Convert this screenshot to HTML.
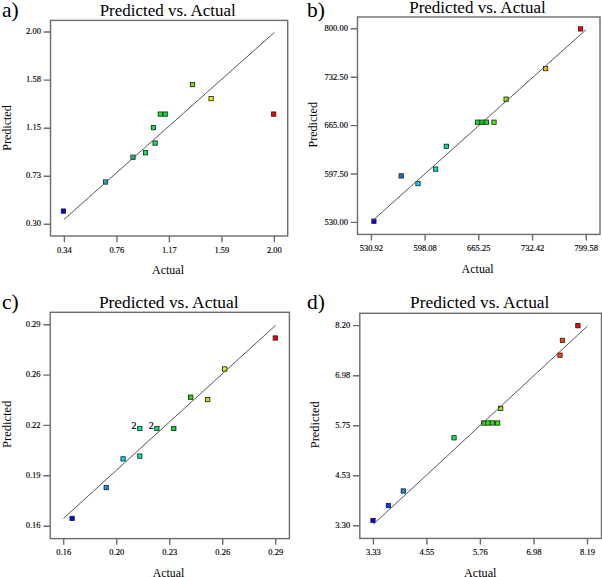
<!DOCTYPE html>
<html><head><meta charset="utf-8"><title>Predicted vs. Actual</title>
<style>
html,body{margin:0;padding:0;background:#fff;}
body{width:602px;height:577px;overflow:hidden;}
svg{display:block;}
text{font-family:"Liberation Serif", serif;fill:#000;}
.tk{font-size:8.5px;stroke:#000;stroke-width:0.15px;}
.ti{font-size:17px;}
.le{font-size:21.5px;}
.ax{font-size:12px;}
.two{font-size:10px;stroke:#000;stroke-width:0.2px;}
</style></head><body>
<svg width="602" height="577" viewBox="0 0 602 577">
<rect width="602" height="577" fill="#fff"/>
<g><rect x="50.5" y="20.4" width="237.2" height="215.6" fill="none" stroke="#6b6b6b" stroke-width="1.4"/><path d="M64.4 236V242.2M116.9 236V242.2M169.4 236V242.2M221.9 236V242.2M274.4 236V242.2M50.5 32H43.7M50.5 80.1H43.7M50.5 128.2H43.7M50.5 176.2H43.7M50.5 224.3H43.7" stroke="#6b6b6b" stroke-width="1.4" fill="none"/><text x="64.4" y="252.5" class="tk" text-anchor="middle">0.34</text><text x="116.9" y="252.5" class="tk" text-anchor="middle">0.76</text><text x="169.4" y="252.5" class="tk" text-anchor="middle">1.17</text><text x="221.9" y="252.5" class="tk" text-anchor="middle">1.59</text><text x="274.4" y="252.5" class="tk" text-anchor="middle">2.00</text><text x="40.9" y="33.7" class="tk" text-anchor="end">2.00</text><text x="40.9" y="81.8" class="tk" text-anchor="end">1.58</text><text x="40.9" y="129.9" class="tk" text-anchor="end">1.15</text><text x="40.9" y="177.9" class="tk" text-anchor="end">0.73</text><text x="40.9" y="226" class="tk" text-anchor="end">0.30</text><rect x="61.25" y="208.95" width="4.3" height="4.3" fill="#0000ff" stroke="#1c1c1c" stroke-width="0.8"/><rect x="103.45" y="179.85" width="4.3" height="4.3" fill="#00c8e8" stroke="#1c1c1c" stroke-width="0.8"/><rect x="130.85" y="155.05" width="4.3" height="4.3" fill="#00dd99" stroke="#1c1c1c" stroke-width="0.8"/><rect x="143.35" y="150.55" width="4.3" height="4.3" fill="#00ee55" stroke="#1c1c1c" stroke-width="0.8"/><rect x="152.95" y="140.95" width="4.3" height="4.3" fill="#00ee44" stroke="#1c1c1c" stroke-width="0.8"/><rect x="151.25" y="125.45" width="4.3" height="4.3" fill="#00ee44" stroke="#1c1c1c" stroke-width="0.8"/><rect x="158.15" y="111.95" width="4.3" height="4.3" fill="#00ee33" stroke="#1c1c1c" stroke-width="0.8"/><rect x="163.05" y="111.95" width="4.3" height="4.3" fill="#00ee33" stroke="#1c1c1c" stroke-width="0.8"/><rect x="190.35" y="82.45" width="4.3" height="4.3" fill="#66ee00" stroke="#1c1c1c" stroke-width="0.8"/><rect x="208.95" y="96.45" width="4.3" height="4.3" fill="#eeee00" stroke="#1c1c1c" stroke-width="0.8"/><rect x="271.55" y="111.95" width="4.3" height="4.3" fill="#ff0000" stroke="#1c1c1c" stroke-width="0.8"/><line x1="64" y1="219.5" x2="274.4" y2="32.4" stroke="#555" stroke-width="1.0"/><text x="99.7" y="15.7" class="ti" textLength="136.1" lengthAdjust="spacingAndGlyphs">Predicted vs. Actual</text><text x="2" y="16.6" class="le">a)</text><text transform="translate(11 128) rotate(-90)" x="0" y="0" class="ax" text-anchor="middle" textLength="45.5" lengthAdjust="spacingAndGlyphs">Predicted</text><text x="168" y="274.2" class="ax" text-anchor="middle" textLength="32" lengthAdjust="spacingAndGlyphs">Actual</text></g>
<g><rect x="357.5" y="17" width="242.5" height="217.4" fill="none" stroke="#6b6b6b" stroke-width="1.4"/><path d="M371.4 234.4V240.6M425.1 234.4V240.6M478.8 234.4V240.6M532.6 234.4V240.6M586.3 234.4V240.6M357.5 28.8H350.7M357.5 77.2H350.7M357.5 125.6H350.7M357.5 174H350.7M357.5 222.4H350.7" stroke="#6b6b6b" stroke-width="1.4" fill="none"/><text x="371.4" y="250.6" class="tk" text-anchor="middle">530.92</text><text x="425.1" y="250.6" class="tk" text-anchor="middle">598.08</text><text x="478.8" y="250.6" class="tk" text-anchor="middle">665.25</text><text x="532.6" y="250.6" class="tk" text-anchor="middle">732.42</text><text x="586.3" y="250.6" class="tk" text-anchor="middle">799.58</text><text x="347.9" y="31.4" class="tk" text-anchor="end">800.00</text><text x="347.9" y="79.8" class="tk" text-anchor="end">732.50</text><text x="347.9" y="128.2" class="tk" text-anchor="end">665.00</text><text x="347.9" y="176.6" class="tk" text-anchor="end">597.50</text><text x="347.9" y="225" class="tk" text-anchor="end">530.00</text><rect x="371.75" y="219.05" width="4.3" height="4.3" fill="#0000ff" stroke="#1c1c1c" stroke-width="0.8"/><rect x="399.05" y="173.75" width="4.3" height="4.3" fill="#1a6ae8" stroke="#1c1c1c" stroke-width="0.8"/><rect x="415.85" y="181.45" width="4.3" height="4.3" fill="#00d8f0" stroke="#1c1c1c" stroke-width="0.8"/><rect x="433.45" y="166.95" width="4.3" height="4.3" fill="#00e8c8" stroke="#1c1c1c" stroke-width="0.8"/><rect x="444.15" y="144.15" width="4.3" height="4.3" fill="#00e090" stroke="#1c1c1c" stroke-width="0.8"/><rect x="475.35" y="120.05" width="4.3" height="4.3" fill="#00ee22" stroke="#1c1c1c" stroke-width="0.8"/><rect x="479.85" y="120.05" width="4.3" height="4.3" fill="#00ee22" stroke="#1c1c1c" stroke-width="0.8"/><rect x="484.35" y="120.05" width="4.3" height="4.3" fill="#00ee22" stroke="#1c1c1c" stroke-width="0.8"/><rect x="491.85" y="120.05" width="4.3" height="4.3" fill="#55ee00" stroke="#1c1c1c" stroke-width="0.8"/><rect x="503.95" y="97.05" width="4.3" height="4.3" fill="#88ee00" stroke="#1c1c1c" stroke-width="0.8"/><rect x="543.45" y="66.45" width="4.3" height="4.3" fill="#ffbb00" stroke="#1c1c1c" stroke-width="0.8"/><rect x="578.45" y="26.75" width="4.3" height="4.3" fill="#ff0000" stroke="#1c1c1c" stroke-width="0.8"/><line x1="371.4" y1="221.7" x2="586" y2="29.7" stroke="#555" stroke-width="1.0"/><text x="409.2" y="12.5" class="ti" textLength="136.5" lengthAdjust="spacingAndGlyphs">Predicted vs. Actual</text><text x="307" y="17" class="le">b)</text><text transform="translate(317 124.8) rotate(-90)" x="0" y="0" class="ax" text-anchor="middle" textLength="45.5" lengthAdjust="spacingAndGlyphs">Predicted</text><text x="477.6" y="272.9" class="ax" text-anchor="middle" textLength="32" lengthAdjust="spacingAndGlyphs">Actual</text></g>
<g><rect x="50.2" y="312.3" width="239.2" height="226.3" fill="none" stroke="#6b6b6b" stroke-width="1.4"/><path d="M63.7 538.6V544.8M116.7 538.6V544.8M169.7 538.6V544.8M222.7 538.6V544.8M275.7 538.6V544.8M50.2 324.7H43.4M50.2 375.1H43.4M50.2 425.4H43.4M50.2 475.8H43.4M50.2 526.2H43.4" stroke="#6b6b6b" stroke-width="1.4" fill="none"/><text x="63.7" y="555.3" class="tk" text-anchor="middle">0.16</text><text x="116.7" y="555.3" class="tk" text-anchor="middle">0.20</text><text x="169.7" y="555.3" class="tk" text-anchor="middle">0.23</text><text x="222.7" y="555.3" class="tk" text-anchor="middle">0.26</text><text x="275.7" y="555.3" class="tk" text-anchor="middle">0.29</text><text x="40.6" y="326.8" class="tk" text-anchor="end">0.29</text><text x="40.6" y="377.2" class="tk" text-anchor="end">0.26</text><text x="40.6" y="427.5" class="tk" text-anchor="end">0.22</text><text x="40.6" y="477.9" class="tk" text-anchor="end">0.19</text><text x="40.6" y="528.3" class="tk" text-anchor="end">0.16</text><rect x="69.95" y="516.25" width="4.3" height="4.3" fill="#0000ff" stroke="#1c1c1c" stroke-width="0.8"/><rect x="104.05" y="485.45" width="4.3" height="4.3" fill="#1090e8" stroke="#1c1c1c" stroke-width="0.8"/><rect x="120.95" y="456.75" width="4.3" height="4.3" fill="#00d8f0" stroke="#1c1c1c" stroke-width="0.8"/><rect x="137.65" y="453.95" width="4.3" height="4.3" fill="#00e8b0" stroke="#1c1c1c" stroke-width="0.8"/><rect x="137.65" y="426.35" width="4.3" height="4.3" fill="#00ee99" stroke="#1c1c1c" stroke-width="0.8"/><rect x="154.75" y="426.35" width="4.3" height="4.3" fill="#00ee55" stroke="#1c1c1c" stroke-width="0.8"/><rect x="171.65" y="426.35" width="4.3" height="4.3" fill="#00dd22" stroke="#1c1c1c" stroke-width="0.8"/><rect x="188.55" y="395.05" width="4.3" height="4.3" fill="#22dd00" stroke="#1c1c1c" stroke-width="0.8"/><rect x="205.55" y="397.45" width="4.3" height="4.3" fill="#aaee00" stroke="#1c1c1c" stroke-width="0.8"/><rect x="222.55" y="366.85" width="4.3" height="4.3" fill="#eeee00" stroke="#1c1c1c" stroke-width="0.8"/><rect x="273.15" y="335.85" width="4.3" height="4.3" fill="#ff0000" stroke="#1c1c1c" stroke-width="0.8"/><line x1="63.4" y1="518.5" x2="275.6" y2="325.3" stroke="#555" stroke-width="1.0"/><text x="131.5" y="428.7" class="two">2</text><text x="148.7" y="428.7" class="two">2</text><text x="98.9" y="307.5" class="ti" textLength="139.6" lengthAdjust="spacingAndGlyphs">Predicted vs. Actual</text><text x="2" y="308.7" class="le">c)</text><text transform="translate(10.7 424.3) rotate(-90)" x="0" y="0" class="ax" text-anchor="middle" textLength="47.3" lengthAdjust="spacingAndGlyphs">Predicted</text><text x="168.5" y="577" class="ax" text-anchor="middle" textLength="31.5" lengthAdjust="spacingAndGlyphs">Actual</text></g>
<g><rect x="359.8" y="313.3" width="241.7" height="225.1" fill="none" stroke="#6b6b6b" stroke-width="1.4"/><path d="M373.4 538.4V544.6M426.9 538.4V544.6M480.4 538.4V544.6M534 538.4V544.6M587.5 538.4V544.6M359.8 325.6H353M359.8 375.7H353M359.8 425.7H353M359.8 475.8H353M359.8 525.8H353" stroke="#6b6b6b" stroke-width="1.4" fill="none"/><text x="373.4" y="555.3" class="tk" text-anchor="middle">3.33</text><text x="426.9" y="555.3" class="tk" text-anchor="middle">4.55</text><text x="480.4" y="555.3" class="tk" text-anchor="middle">5.76</text><text x="534" y="555.3" class="tk" text-anchor="middle">6.98</text><text x="587.5" y="555.3" class="tk" text-anchor="middle">8.19</text><text x="350.2" y="327.7" class="tk" text-anchor="end">8.20</text><text x="350.2" y="377.8" class="tk" text-anchor="end">6.98</text><text x="350.2" y="427.8" class="tk" text-anchor="end">5.75</text><text x="350.2" y="477.9" class="tk" text-anchor="end">4.53</text><text x="350.2" y="527.9" class="tk" text-anchor="end">3.30</text><rect x="370.85" y="518.35" width="4.3" height="4.3" fill="#0000ff" stroke="#1c1c1c" stroke-width="0.8"/><rect x="386.25" y="503.45" width="4.3" height="4.3" fill="#0040ff" stroke="#1c1c1c" stroke-width="0.8"/><rect x="401.15" y="488.85" width="4.3" height="4.3" fill="#0090f0" stroke="#1c1c1c" stroke-width="0.8"/><rect x="451.85" y="435.65" width="4.3" height="4.3" fill="#00ee55" stroke="#1c1c1c" stroke-width="0.8"/><rect x="481.55" y="420.85" width="4.3" height="4.3" fill="#22ee00" stroke="#1c1c1c" stroke-width="0.8"/><rect x="485.75" y="420.85" width="4.3" height="4.3" fill="#22ee00" stroke="#1c1c1c" stroke-width="0.8"/><rect x="490.25" y="420.85" width="4.3" height="4.3" fill="#22ee00" stroke="#1c1c1c" stroke-width="0.8"/><rect x="495.55" y="420.85" width="4.3" height="4.3" fill="#22ee00" stroke="#1c1c1c" stroke-width="0.8"/><rect x="498.55" y="406.25" width="4.3" height="4.3" fill="#88ee00" stroke="#1c1c1c" stroke-width="0.8"/><rect x="557.85" y="353.05" width="4.3" height="4.3" fill="#ff4400" stroke="#1c1c1c" stroke-width="0.8"/><rect x="560.25" y="338.25" width="4.3" height="4.3" fill="#ff4400" stroke="#1c1c1c" stroke-width="0.8"/><rect x="575.75" y="323.55" width="4.3" height="4.3" fill="#ff0000" stroke="#1c1c1c" stroke-width="0.8"/><line x1="373.5" y1="524.2" x2="587.4" y2="326.1" stroke="#555" stroke-width="1.0"/><text x="410.1" y="308.4" class="ti" textLength="139.3" lengthAdjust="spacingAndGlyphs">Predicted vs. Actual</text><text x="307" y="308.6" class="le">d)</text><text transform="translate(319.4 424.7) rotate(-90)" x="0" y="0" class="ax" text-anchor="middle" textLength="47.1" lengthAdjust="spacingAndGlyphs">Predicted</text><text x="480.2" y="577" class="ax" text-anchor="middle" textLength="32.5" lengthAdjust="spacingAndGlyphs">Actual</text></g>
</svg>
</body></html>
